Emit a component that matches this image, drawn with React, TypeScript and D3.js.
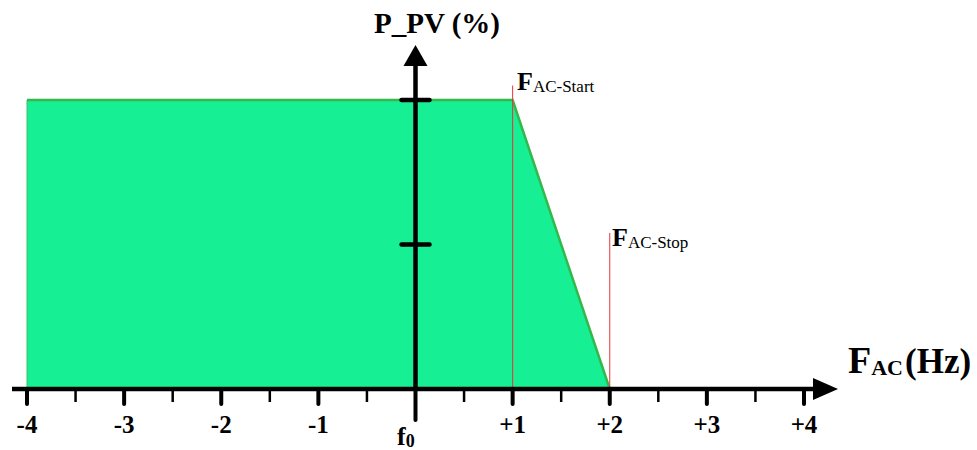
import React from "react";
import * as d3 from "d3";

// Frequency-watt curve: PV output power vs. AC frequency deviation
const freqTicks = [-4, -3, -2, -1, 0, 1, 2, 3, 4];
const freqTickLabels = ["-4", "-3", "-2", "-1", "", "+1", "+2", "+3", "+4"];
const minorTicks = [-3.5, -2.5, -1.5, -0.5, 0.5, 1.5, 2.5, 3.5];
const powerTicks = [50, 100];

const curveFreq = [-4, 1, 2];
const curvePower = [100, 100, 0];

const fStart = 1;
const fStop = 2;
const markerTop = [105, 54];

const W = 977;
const H = 450;
const serif = "'Liberation Serif', 'Times New Roman', serif";

export default function App() {
  const x = d3.scaleLinear().domain([-4, 4]).range([27, 804]);
  const y = d3.scaleLinear().domain([0, 100]).range([389, 100]);

  const pts: [number, number][] = curveFreq.map((f, i) => [x(f), y(curvePower[i])]);
  const area = d3
    .area<[number, number]>()
    .x((d) => d[0])
    .y0(y(0))
    .y1((d) => d[1])(pts);
  const edge = d3.line<[number, number]>()(pts);

  const x0 = x(0);
  const yBase = y(0);

  return (
    <svg
      width={W}
      height={H}
      style={{ position: "absolute", left: 0, top: 0, background: "#fff" }}
      fontFamily={serif}
    >
      {/* shaded operating region */}
      <path d={area ?? ""} fill="#17EF95" />
      <line x1={x(-4)} x2={x(-4)} y1={y(100)} y2={yBase} stroke="#3fbf63" strokeWidth={1} />
      <path d={edge ?? ""} fill="none" stroke="#34B84C" strokeWidth={2.5} />

      {/* start / stop markers */}
      <line x1={x(fStart)} x2={x(fStart)} y1={y(markerTop[0])} y2={yBase} stroke="#e8343c" strokeWidth={1} />
      <line x1={x(fStop)} x2={x(fStop)} y1={y(markerTop[1])} y2={yBase} stroke="#e8343c" strokeWidth={1} />

      {/* x axis */}
      <line x1={12} x2={815} y1={yBase} y2={yBase} stroke="#000" strokeWidth={4.5} />
      <polygon points={`${813},${yBase - 11} ${838},${yBase} ${813},${yBase + 11}`} fill="#000" />
      {freqTicks.map((f) => (
        <line
          key={"M" + f}
          x1={x(f)}
          x2={x(f)}
          y1={yBase}
          y2={f === 0 ? 420 : 404}
          stroke="#000"
          strokeWidth={4}
          strokeLinecap="round"
        />
      ))}
      {minorTicks.map((f) => (
        <line key={"m" + f} x1={x(f)} x2={x(f)} y1={yBase} y2={402} stroke="#000" strokeWidth={2.5} />
      ))}
      {freqTicks.map((f, i) => (
        <text
          key={"t" + f}
          x={x(f)}
          y={433}
          textAnchor="middle"
          fontSize={25}
          fontWeight="bold"
        >
          {freqTickLabels[i]}
        </text>
      ))}
      <text x={397} y={445} fontSize={26} fontWeight="bold">
        f
        <tspan fontSize={18} dy={2}>
          0
        </tspan>
      </text>

      {/* y axis */}
      <line x1={x0} x2={x0} y1={yBase} y2={62} stroke="#000" strokeWidth={4.5} />
      <polygon points={`${x0 - 12},${66} ${x0},${45} ${x0 + 12},${66}`} fill="#000" />
      {powerTicks.map((p) => (
        <line
          key={"p" + p}
          x1={x0 - 14}
          x2={x0 + 14}
          y1={y(p)}
          y2={y(p)}
          stroke="#000"
          strokeWidth={4.5}
          strokeLinecap="round"
        />
      ))}

      {/* axis titles */}
      <text x={437} y={33} textAnchor="middle" fontSize={29} fontWeight="bold">
        P_PV (%)
      </text>
      <text x={848} y={373} fontSize={38} fontWeight="bold">
        F
        <tspan fontSize={22} dy={2}>
          AC
        </tspan>
        <tspan fontSize={35} dy={-2} dx={2}>
          (Hz)
        </tspan>
      </text>

      {/* marker labels */}
      <text x={517} y={90} fontSize={26} fontWeight="bold">
        F
        <tspan fontSize={17} fontWeight="normal" dy={2}>
          AC-Start
        </tspan>
      </text>
      <text x={612} y={246} fontSize={26} fontWeight="bold">
        F
        <tspan fontSize={17} fontWeight="normal" dy={2}>
          AC-Stop
        </tspan>
      </text>
    </svg>
  );
}
